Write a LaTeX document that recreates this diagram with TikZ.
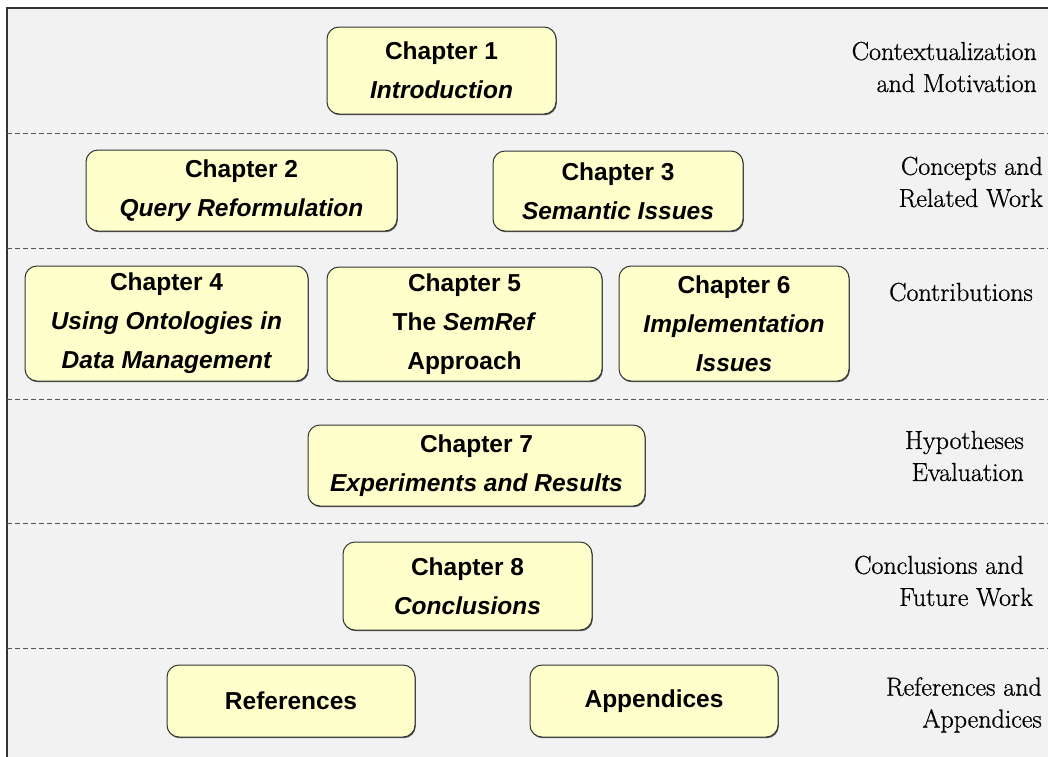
\documentclass[tikz,border=0pt]{standalone}
\usepackage{fontspec}
\newfontfamily\boxfont{Liberation Sans}
\newfontfamily\labelfont[FakeBold=0.8]{Latin Modern Roman}
\usetikzlibrary{shadows}
\definecolor{bandgray}{HTML}{F2F2F2}
\definecolor{boxyellow}{HTML}{FFFFCC}
\definecolor{edgegray}{HTML}{333333}
\definecolor{dashgray}{HTML}{555555}
\begin{document}
\begin{tikzpicture}[x=1pt,y=-1pt,
  chapbox/.style={draw=edgegray, line width=1pt, fill=boxyellow, rounded corners=12pt,
    align=center, inner sep=0pt, font=\boxfont\bfseries\fontsize{24.5}{39}\selectfont,
    drop shadow={shadow xshift=0.8pt, shadow yshift=-1.2pt, fill=black!65, opacity=1}},
  partlabel/.style={anchor=east, align=right, inner sep=0pt, font=\labelfont\fontsize{26}{32}\selectfont},
  sepline/.style={dashgray, line width=1pt, dash pattern=on 5pt off 3pt}]

\useasboundingbox (0,0) rectangle (1048,756);
\clip (0,0) rectangle (1048,756);
\draw[edgegray, line width=1.2pt, fill=bandgray] (7,8) rectangle (1060,770);
\foreach \y in {133,248,399,523,648}
  \draw[sepline] (7,\y) -- (1048,\y);

\node[chapbox, minimum width=229pt, minimum height=87pt] (ch1) at (441.5,70.5) {Chapter 1\\\itshape Introduction};
\node[chapbox, minimum width=311pt, minimum height=81pt] (ch2) at (241.5,190.5) {Chapter 2\\\itshape Query Reformulation};
\node[chapbox, minimum width=250pt, minimum height=80pt] (ch3) at (618,191) {Chapter 3\\\itshape Semantic Issues};
\node[chapbox, minimum width=283pt, minimum height=115pt] (ch4) at (166.5,323.5) {Chapter 4\\\itshape Using Ontologies in\\\itshape Data Management};
\node[chapbox, minimum width=275pt, minimum height=114pt] (ch5) at (464.5,324) {Chapter 5\\The \textit{SemRef}\\Approach};
\node[chapbox, minimum width=230pt, minimum height=115pt] (ch6) at (734,323.5) {Chapter 6\\\itshape Implementation\\\itshape Issues};
\node[chapbox, minimum width=337pt, minimum height=81pt] (ch7) at (476.5,465.5) {Chapter 7\\\itshape Experiments and Results};
\node[chapbox, minimum width=249pt, minimum height=88pt] (ch8) at (467.5,586) {Chapter 8\\\itshape Conclusions};
\node[chapbox, minimum width=248pt, minimum height=72pt] (refs) at (291,701) {References};
\node[chapbox, minimum width=248pt, minimum height=72pt] (apps) at (654,701) {Appendices};

\node[partlabel] (motiv) at (1037,67) {Contextualization\\and Motivation};
\node[partlabel] (related) at (1043,182) {Concepts and\\Related Work};
\node[partlabel] (contrib) at (1033,292) {Contributions};
\node[partlabel] (hypo) at (1024,456) {Hypotheses\\Evaluation};
\node[partlabel] (concl) at (1033,581) {Conclusions and\hspace*{9pt}\\Future Work};
\node[partlabel] (append) at (1042,705) {References and\\Appendices};
\end{tikzpicture}
\end{document}
